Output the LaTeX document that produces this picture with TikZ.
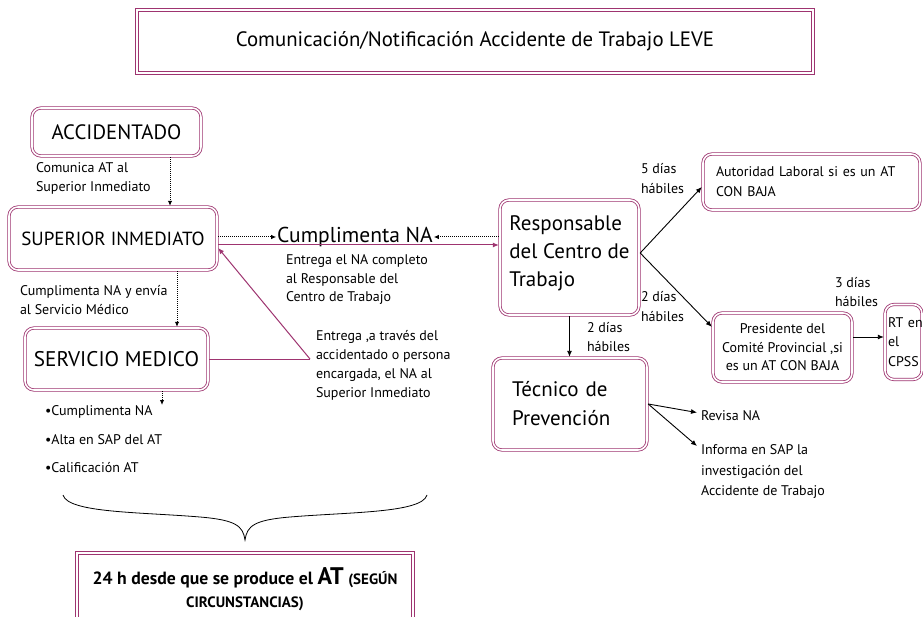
\documentclass[tikz,border=0pt]{standalone}
\usepackage{fontspec}
\setmainfont{PT Sans}
\usetikzlibrary{arrows.meta,calc}
\definecolor{plum}{RGB}{158,52,112}
\begin{document}
\begin{tikzpicture}[x=1pt,y=-1pt,
  every node/.style={inner sep=0pt, outer sep=0pt},
  dbl/.style={draw=plum, double=white, double distance=1.6pt, line width=0.8pt, outer sep=1.2pt},
  rbox/.style={dbl, rounded corners=9pt, fill=white},
  sbox/.style={dbl, fill=white},
  lbl/.style={font=\fontsize{14}{19}\selectfont, align=left, anchor=north west},
  dotarr/.style={line width=1pt, dash pattern=on 1pt off 1pt, -{Latex[length=5pt,width=4.5pt]}},
  blkarr/.style={line width=0.9pt, -{Latex[length=6pt,width=5pt]}},
  magarr/.style={draw=plum, line width=1pt, -{Latex[length=6pt,width=5pt]}},
  magline/.style={draw=plum, line width=1pt},
]
\useasboundingbox (0,0) rectangle (923,617);
\fill[white] (0,0) rectangle (923,617);

% boxes
\node[sbox, minimum width=676pt, minimum height=63pt, font=\fontsize{20.8}{24}\selectfont] (title) at (475,41.5) {Comunicación/Notificación Accidente de Trabajo LEVE};
\node[rbox, minimum width=169pt, minimum height=48pt, font=\fontsize{20.8}{24}\selectfont] (acc) at (116.5,132) {ACCIDENTADO};
\node[rbox, minimum width=208pt, minimum height=63pt, font=\fontsize{19}{23}\selectfont] (sup) at (113,238.5) {SUPERIOR INMEDIATO};
\node[rbox, minimum width=183pt, minimum height=62pt, font=\fontsize{21.2}{24}\selectfont] (serv) at (116.5,359) {SERVICIO MEDICO};
\node[font=\fontsize{21.5}{24}\selectfont, inner sep=1pt] (cum) at (355,237) {Cumplimenta NA};
\node[rbox, minimum width=139pt, minimum height=115pt, align=left, text depth=12.5pt, font=\fontsize{21}{28}\selectfont] (resp) at (569.5,257.5) {Responsable\\del Centro de\\Trabajo};
\node[rbox, minimum width=217pt, minimum height=56pt, text width=191pt, align=left, font=\fontsize{14}{20}\selectfont] (aut) at (811.5,182) {Autoridad Laboral si es un AT\\CON BAJA};
\node[rbox, minimum width=139pt, minimum height=69pt, align=center, font=\fontsize{14}{18.5}\selectfont] (pres) at (782.5,347.5) {Presidente del\\Comité Provincial ,si\\es un AT CON BAJA};
\node[rbox, minimum width=37pt, minimum height=75pt, text width=31pt, align=left, font=\fontsize{14}{19.5}\selectfont] (rt) at (903.5,342) {RT~en\\el\\CPSS};
\node[rbox, minimum width=154pt, minimum height=92pt, text width=116pt, align=left, font=\fontsize{21}{29}\selectfont] (tec) at (570,404) {Técnico de\\Prevención};
\node[sbox, minimum width=336pt, minimum height=72pt, align=center, font=\bfseries\fontsize{17.7}{23}\selectfont] (fin) at (245,589) {24 h desde que se produce el {\fontsize{24}{23}\selectfont AT} {\fontsize{15}{23}\selectfont (SEGÚN}\\{\fontsize{15}{23}\selectfont CIRCUNSTANCIAS)}};

% labels
\node[lbl] (l1) at (36,163) {Comunica AT al\\Superior Inmediato};
\node[lbl] (l2) at (20,285) {Cumplimenta NA y envía\\al Servicio Médico};
\node[lbl, font=\fontsize{14}{18.5}\selectfont] (l3) at (286,255) {Entrega el NA completo\\al Responsable del\\Centro de Trabajo};
\node[lbl] (l4) at (316,330) {Entrega ,a través del\\accidentado o persona\\encargada, el NA al\\Superior Inmediato};
\node[lbl, font=\fontsize{14}{20}\selectfont] (d5) at (641,163) {5 días\\hábiles};
\node[lbl, font=\fontsize{14}{20}\selectfont] (d2a) at (641,291) {2 días\\hábiles};
\node[lbl] (d2b) at (587,322) {2 días\\hábiles};
\node[lbl] (d3) at (835,277) {3 días\\hábiles};
\node[lbl] (rev) at (701,411) {Revisa NA};
\node[lbl, font=\fontsize{14}{20.5}\selectfont] (inf) at (701,445) {Informa en SAP la\\investigación del\\Accidente de Trabajo};
\node[lbl, font=\fontsize{14}{28.5}\selectfont] (bul) at (45,406) {•Cumplimenta NA\\•Alta en SAP del AT\\•Calificación AT};

% connectors
\draw[dotarr] ([xshift=53.5pt]acc.south) -- ([xshift=57pt]sup.north);
\draw[dotarr] ([yshift=1.5pt]sup.east) -- (cum.west);
\draw[dotarr] ([yshift=20.5pt]resp.west) -- (cum.east);
\draw[magarr] ([yshift=-6.5pt]sup.east) -- ([yshift=12.5pt]resp.west);
\coordinate (bend) at (310,359);
\draw[magline] (serv.east) -- (bend);
\draw[magarr] (bend) -- ([yshift=-9.5pt]sup.east);
\draw[dotarr] ([xshift=64pt]sup.south) -- ([xshift=60.5pt]serv.north);
\coordinate (servdown) at (162,405);
\draw[dotarr] ([xshift=45.5pt]serv.south) -- (servdown);

\coordinate (rs) at ([yshift=4.5pt]resp.east);
\draw[blkarr] (rs) -- ([yshift=-5pt]aut.west);
\draw[blkarr] (rs) -- ([yshift=-15pt]pres.north west);
\coordinate (pa) at ([yshift=10.5pt]pres.east);
\draw[blkarr] (pa) -- (pa -| rt.west);
\draw[blkarr] (resp.south) -- (resp.south |- tec.north);
\draw[blkarr] (tec.east) -- ([shift={(-4pt,3.5pt)}]rev.west);
\draw[blkarr] (tec.east) -- ([shift={(-4pt,-1pt)}]inf.north west);

% brace
\draw[line width=0.8pt] (63,495) .. controls (68,513) and (140,512) .. (200,517)
  .. controls (236,520) and (243,526) .. (245,540)
  .. controls (247,526) and (254,520) .. (290,517)
  .. controls (350,512) and (422,513) .. (427,495);
\end{tikzpicture}
\end{document}
